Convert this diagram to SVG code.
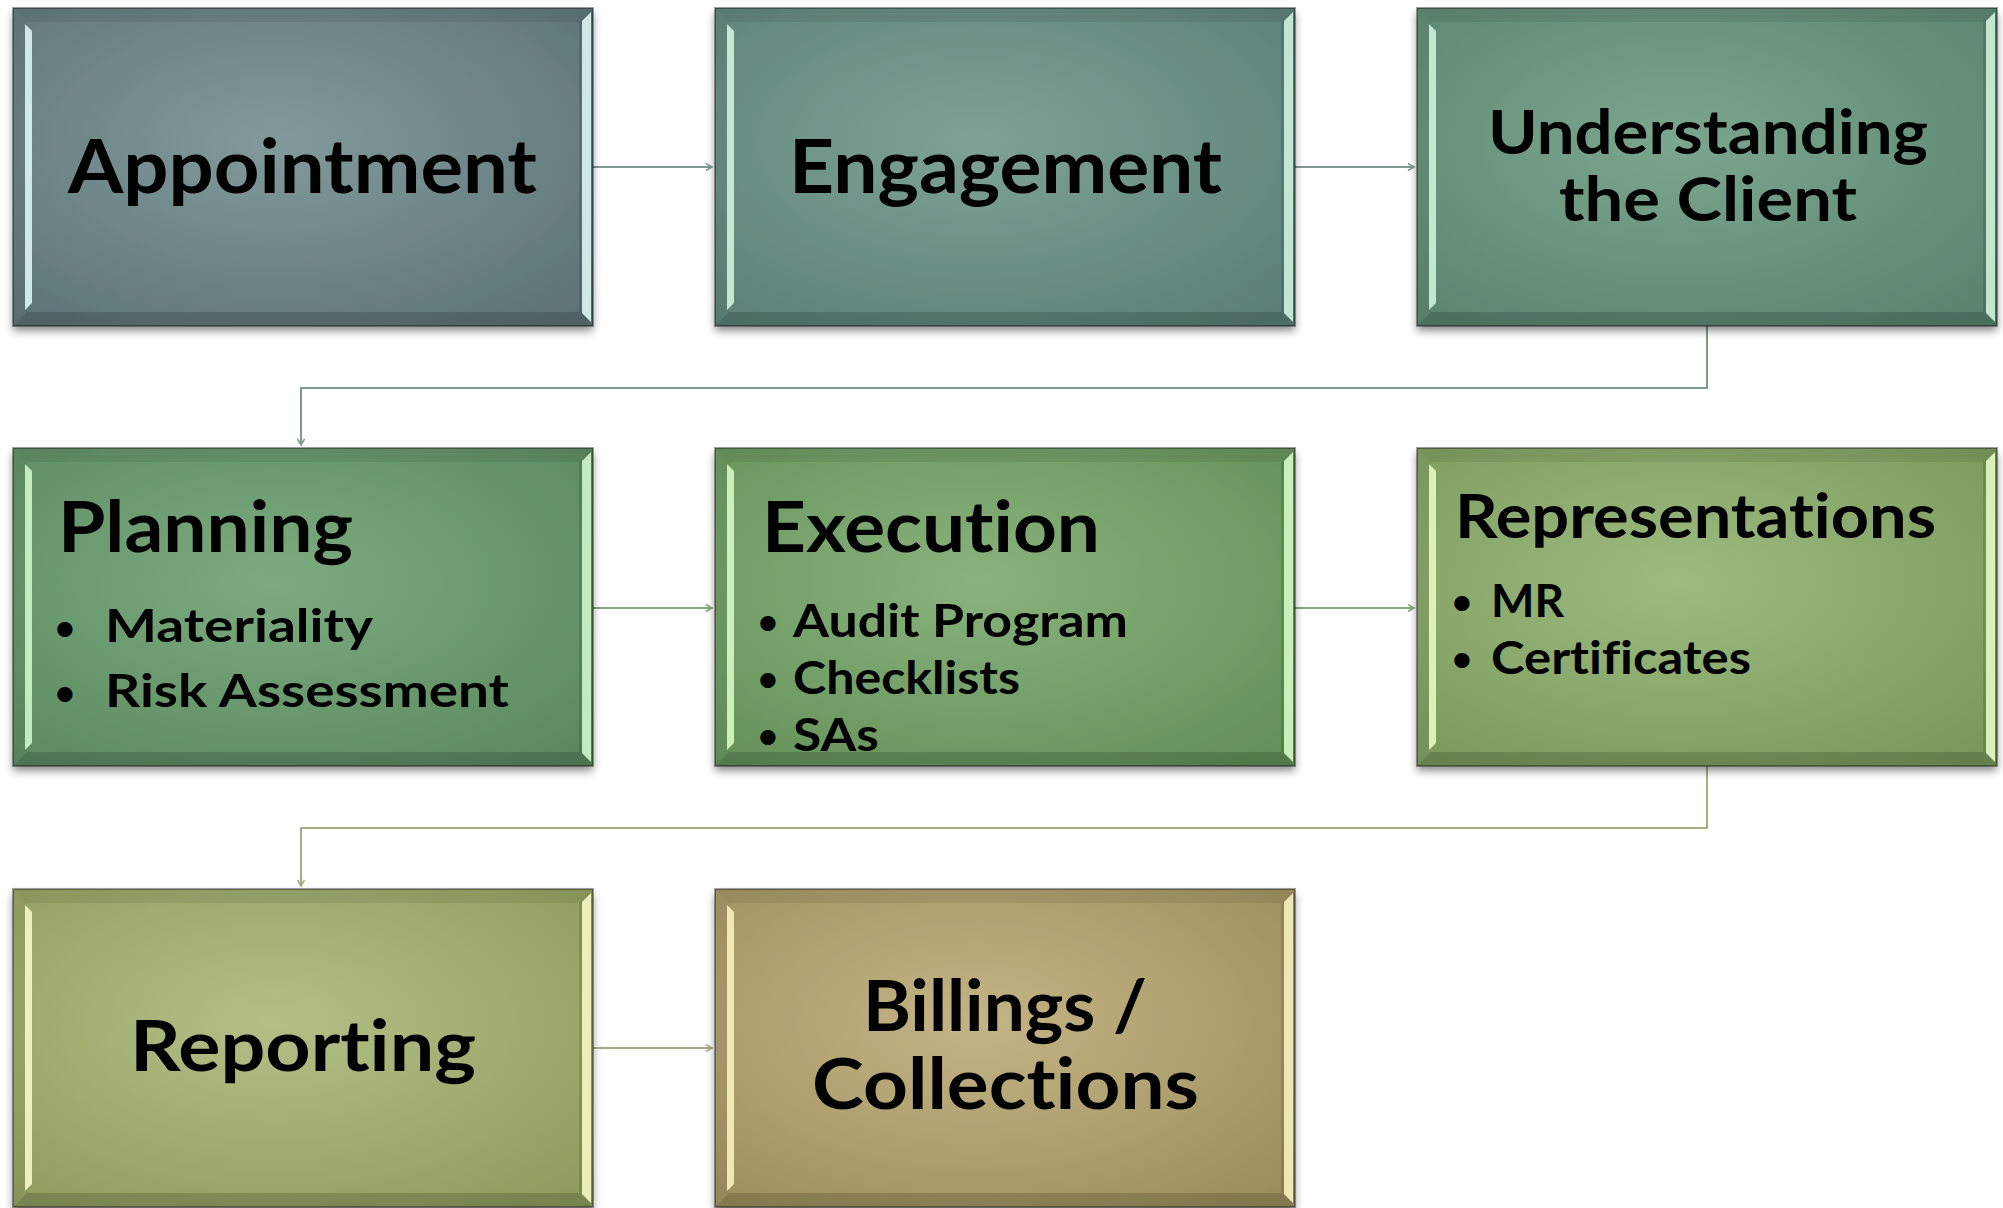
<svg xmlns="http://www.w3.org/2000/svg" xmlns:xlink="http://www.w3.org/1999/xlink" width="2003" height="1208" viewBox="0 0 2003 1208">
<style>
.t{font-family:Lato,"Open Sans","Liberation Sans",sans-serif;font-weight:700;fill:#000;font-variant-ligatures:none;font-feature-settings:"liga" 0,"clig" 0,"dlig" 0}
.h1{font-size:75px}
.h2{font-size:70px}
.h3{font-size:62px}
.b{font-size:45px}
.d{font-size:35px;text-anchor:middle}
.c{fill:none;stroke-width:2}
</style>
<defs>
<filter id="sh" x="-5%" y="-5%" width="110%" height="115%">
<feDropShadow dx="0" dy="5" stdDeviation="4" flood-color="#000" flood-opacity="0.45"/>
</filter>
<radialGradient id="g1" cx="0.45" cy="0.42" r="0.75"><stop offset="0" stop-color="#829a9c"/><stop offset="1" stop-color="#5c7376"/></radialGradient>
<radialGradient id="g2" cx="0.45" cy="0.42" r="0.75"><stop offset="0" stop-color="#7ea296"/><stop offset="1" stop-color="#5a7f74"/></radialGradient>
<radialGradient id="g3" cx="0.45" cy="0.42" r="0.75"><stop offset="0" stop-color="#7ba68e"/><stop offset="1" stop-color="#59836e"/></radialGradient>
<radialGradient id="g4" cx="0.45" cy="0.42" r="0.75"><stop offset="0" stop-color="#7cab80"/><stop offset="1" stop-color="#5a895f"/></radialGradient>
<radialGradient id="g5" cx="0.45" cy="0.42" r="0.75"><stop offset="0" stop-color="#89b27c"/><stop offset="1" stop-color="#639058"/></radialGradient>
<radialGradient id="g6" cx="0.45" cy="0.42" r="0.75"><stop offset="0" stop-color="#9ebb80"/><stop offset="1" stop-color="#78985a"/></radialGradient>
<radialGradient id="g7" cx="0.45" cy="0.42" r="0.75"><stop offset="0" stop-color="#b4bf86"/><stop offset="1" stop-color="#8e9c5c"/></radialGradient>
<radialGradient id="g8" cx="0.45" cy="0.42" r="0.75"><stop offset="0" stop-color="#c4b485"/><stop offset="1" stop-color="#9c8e5c"/></radialGradient>
<g id="bev">
<path d="M0,0 H580 L566,14 H14 Z" fill="#000" opacity="0.08"/>
<path d="M0,318 L14,304 H566 L580,318 Z" fill="#000" opacity="0.16"/>
<path d="M0,0 L14,14 V304 L0,318 Z" fill="#000" opacity="0.05"/>
<path d="M12,16 L19,23 V295 L12,302 Z" fill="currentColor" opacity="0.95"/>
<path d="M580,0 V318 L566,304 V14 Z" fill="#000" opacity="0.12"/>
<path d="M578,4 V314 L569,305 V13 Z" fill="currentColor" opacity="0.95"/>
<rect x="0" y="0" width="580" height="318" fill="none" stroke="#000" stroke-opacity="0.35" stroke-width="2"/>
</g>
<marker id="a1" markerWidth="10" markerHeight="10" refX="7" refY="4" orient="auto" markerUnits="userSpaceOnUse"><path d="M1,0.5 L7,4 L1,7.5" fill="none" stroke="#7f9a94" stroke-width="1.6"/></marker>
<marker id="a2" markerWidth="10" markerHeight="10" refX="7" refY="4" orient="auto" markerUnits="userSpaceOnUse"><path d="M1,0.5 L7,4 L1,7.5" fill="none" stroke="#7c9c8a" stroke-width="1.6"/></marker>
<marker id="a3" markerWidth="10" markerHeight="10" refX="7" refY="4" orient="auto" markerUnits="userSpaceOnUse"><path d="M1,0.5 L7,4 L1,7.5" fill="none" stroke="#88a884" stroke-width="1.6"/></marker>
<marker id="a4" markerWidth="10" markerHeight="10" refX="7" refY="4" orient="auto" markerUnits="userSpaceOnUse"><path d="M1,0.5 L7,4 L1,7.5" fill="none" stroke="#a6ad84" stroke-width="1.6"/></marker>
<marker id="a5" markerWidth="10" markerHeight="10" refX="7" refY="4" orient="auto" markerUnits="userSpaceOnUse"><path d="M1,0.5 L7,4 L1,7.5" fill="none" stroke="#aca986" stroke-width="1.6"/></marker>
</defs>
<rect width="2003" height="1208" fill="#fff"/>

<g id="connectors">
<path class="c" d="M593,167 H712" stroke="#7f9a94" marker-end="url(#a1)"/>
<path class="c" d="M1295,167 H1414" stroke="#7f9a94" marker-end="url(#a1)"/>
<path class="c" d="M1707,326 V388 H301 V445" stroke="#7c9c8a" marker-end="url(#a2)"/>
<path class="c" d="M593,608 H712" stroke="#88a884" marker-end="url(#a3)"/>
<path class="c" d="M1295,608 H1414" stroke="#88a884" marker-end="url(#a3)"/>
<path class="c" d="M1707,766 V828 H301 V886" stroke="#a6ad84" marker-end="url(#a4)"/>
<path class="c" d="M593,1048 H712" stroke="#aca986" marker-end="url(#a5)"/>
</g>

<g id="node-appointment">
<rect x="13" y="8" width="580" height="318" fill="url(#g1)" filter="url(#sh)"/>
<use xlink:href="#bev" x="13" y="8" color="#d6eeee"/>
<text class="t h1" x="68" y="193" textLength="469" lengthAdjust="spacingAndGlyphs">Appointment</text>
</g>

<g id="node-engagement">
<rect x="715" y="8" width="580" height="318" fill="url(#g2)" filter="url(#sh)"/>
<use xlink:href="#bev" x="715" y="8" color="#c8ecdc"/>
<text class="t h1" x="789" y="193" textLength="433" lengthAdjust="spacingAndGlyphs">Engagement</text>
</g>

<g id="node-understanding">
<rect x="1417" y="8" width="580" height="318" fill="url(#g3)" filter="url(#sh)"/>
<use xlink:href="#bev" x="1417" y="8" color="#c8ecd4"/>
<text class="t h3" x="1488" y="154" textLength="440" lengthAdjust="spacingAndGlyphs">Understanding</text>
<text class="t h3" x="1559" y="221" textLength="298" lengthAdjust="spacingAndGlyphs">the Client</text>
</g>

<g id="node-planning">
<rect x="13" y="448" width="580" height="318" fill="url(#g4)" filter="url(#sh)"/>
<use xlink:href="#bev" x="13" y="448" color="#c8f0c8"/>
<text class="t h2" x="58" y="552" textLength="295" lengthAdjust="spacingAndGlyphs">Planning</text>
<text class="t d" x="65" y="640">•</text>
<text class="t b" x="105" y="642" textLength="268" lengthAdjust="spacingAndGlyphs">Materiality</text>
<text class="t d" x="65" y="705">•</text>
<text class="t b" x="105" y="707" textLength="404" lengthAdjust="spacingAndGlyphs">Risk Assessment</text>
</g>

<g id="node-execution">
<rect x="715" y="448" width="580" height="318" fill="url(#g5)" filter="url(#sh)"/>
<use xlink:href="#bev" x="715" y="448" color="#d0f4c0"/>
<text class="t h2" x="762" y="552" textLength="338" lengthAdjust="spacingAndGlyphs">Execution</text>
<text class="t d" x="768" y="634">•</text>
<text class="t b" x="793" y="637" textLength="335" lengthAdjust="spacingAndGlyphs">Audit Program</text>
<text class="t d" x="768" y="691">•</text>
<text class="t b" x="793" y="694" textLength="227" lengthAdjust="spacingAndGlyphs">Checklists</text>
<text class="t d" x="768" y="748">•</text>
<text class="t b" x="793" y="751" textLength="86" lengthAdjust="spacingAndGlyphs">SAs</text>
</g>

<g id="node-representations">
<rect x="1417" y="448" width="580" height="318" fill="url(#g6)" filter="url(#sh)"/>
<use xlink:href="#bev" x="1417" y="448" color="#e0f4c0"/>
<text class="t h3" x="1455" y="538" textLength="481" lengthAdjust="spacingAndGlyphs">Representations</text>
<text class="t d" x="1462" y="614">•</text>
<text class="t b" x="1491" y="617" textLength="73" lengthAdjust="spacingAndGlyphs">MR</text>
<text class="t d" x="1462" y="671">•</text>
<text class="t b" x="1491" y="674" textLength="260" lengthAdjust="spacingAndGlyphs">Certificates</text>
</g>

<g id="node-reporting">
<rect x="13" y="889" width="580" height="318" fill="url(#g7)" filter="url(#sh)"/>
<use xlink:href="#bev" x="13" y="889" color="#f0f4c0"/>
<text class="t h2" x="130" y="1071" textLength="346" lengthAdjust="spacingAndGlyphs">Reporting</text>
</g>

<g id="node-billings">
<rect x="715" y="889" width="580" height="318" fill="url(#g8)" filter="url(#sh)"/>
<use xlink:href="#bev" x="715" y="889" color="#f4ecb8"/>
<text class="t h2" x="863" y="1031" textLength="284" lengthAdjust="spacingAndGlyphs">Billings /</text>
<text class="t h2" x="812" y="1109" textLength="387" lengthAdjust="spacingAndGlyphs">Collections</text>
</g>
</svg>
